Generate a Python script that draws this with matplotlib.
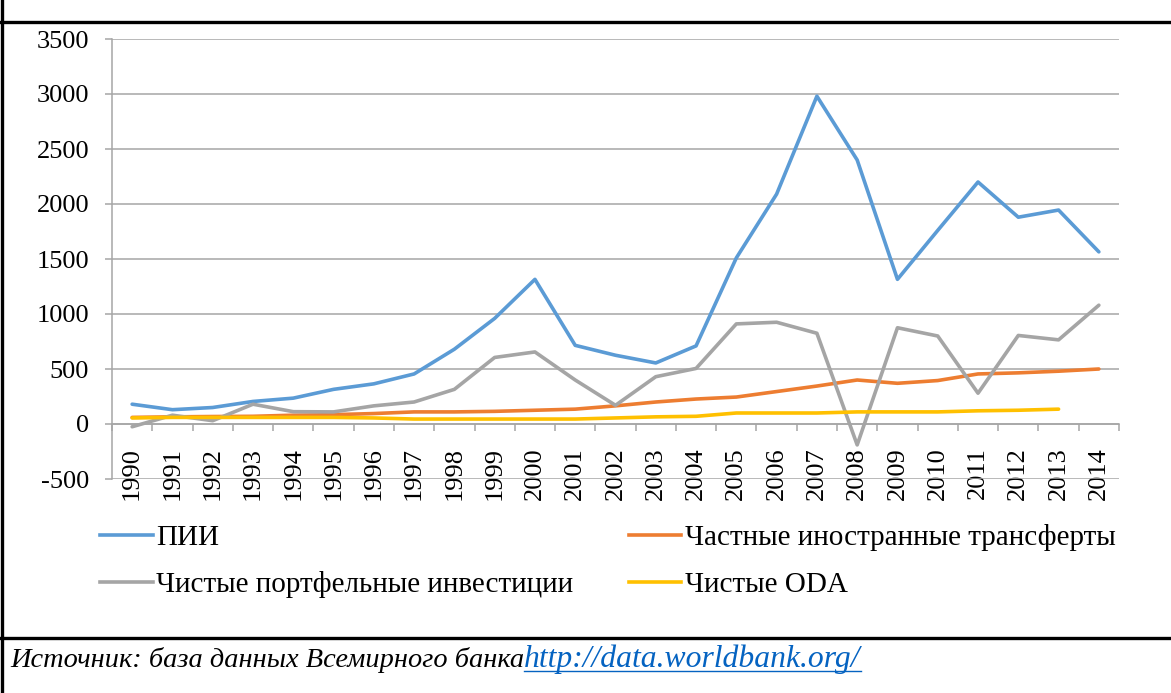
import matplotlib.pyplot as plt
from matplotlib.lines import Line2D
from matplotlib.ticker import MultipleLocator

# values (annual, 1990-2014)
years = list(range(1990, 2015))
fdi = [180, 130, 150, 205, 235, 315, 365, 455, 680, 960, 1315, 715, 625, 555, 710,
       1510, 2090, 2980, 2400, 1315, 1760, 2200, 1880, 1945, 1565]
transfers = [60, 65, 68, 70, 80, 85, 95, 110, 110, 115, 125, 135, 165, 200, 227,
             245, 295, 345, 400, 370, 395, 455, 465, 480, 500]
portfolio = [-25, 80, 30, 180, 112, 110, 165, 200, 315, 605, 655, 400, 170, 430, 505,
             910, 925, 825, -190, 875, 800, 280, 805, 765, 1080]
oda = [55, 60, 60, 60, 60, 60, 55, 45, 45, 45, 45, 45, 55, 65, 70,
       100, 100, 100, 110, 110, 110, 120, 125, 135, None]

series = [
    ('ПИИ', fdi, '#5B9BD5'),
    ('Частные иностранные трансферты', transfers, '#ED7D31'),
    ('Чистые портфельные инвестиции', portfolio, '#A5A5A5'),
    ('Чистые ODA', oda, '#FFC000'),
]

source_text = 'Источник: база данных Всемирного банка'
source_link = 'http://data.worldbank.org/'

plt.rcParams['font.family'] = ['Liberation Serif', 'DejaVu Serif']
plt.rcParams['axes.unicode_minus'] = False

W, H = 1171, 693
fig = plt.figure(figsize=(W / 100, H / 100), dpi=100)

ax = fig.add_axes([112 / W, 1 - 479 / H, 1007 / W, 440 / H])
x = list(range(len(years)))
lines = {}
for name, vals, col in series:
    xs = [i for i, v in zip(x, vals) if v is not None]
    ys = [v for v in vals if v is not None]
    lines[name], = ax.plot(xs, ys, color=col, lw=2.6, solid_capstyle='round',
                           solid_joinstyle='round', zorder=3)

ax.set_xlim(-0.5, len(years) - 0.5)
ax.set_ylim(-500, 3500)
ax.yaxis.set_major_locator(MultipleLocator(500))
ax.grid(axis='y', color='#A6A6A6', lw=1.1, zorder=0)
ax.set_axisbelow(True)

for s in ['top', 'right']:
    ax.spines[s].set_visible(False)
ax.spines['bottom'].set_position(('data', 0))
ax.spines['bottom'].set_color('#A6A6A6')
ax.spines['bottom'].set_linewidth(1.1)
ax.spines['left'].set_color('#A6A6A6')
ax.spines['left'].set_linewidth(1.1)

ax.set_xticks(x)
ax.set_xticklabels([str(y) for y in years], rotation=90)
ax.set_xticks([i - 0.5 for i in range(len(years) + 1)], minor=True)
ax.tick_params(axis='x', which='major', length=0, pad=16.5, labelsize=19)
ax.tick_params(axis='x', which='minor', length=5, width=1.1, color='#A6A6A6', direction='out')
ax.tick_params(axis='y', length=5, width=1.1, color='#A6A6A6', pad=11.5, labelsize=19)

# legend below the plot, two columns
order = ['ПИИ', 'Чистые портфельные инвестиции', 'Частные иностранные трансферты', 'Чистые ODA']
handles = [Line2D([], [], color=lines[n].get_color(), lw=2.6) for n in order]
fig.legend(handles, order, ncol=2, loc='upper left', bbox_to_anchor=(100 / W, 1 - 524 / H),
           frameon=False, fontsize=21, handlelength=1.8, handletextpad=0.13,
           columnspacing=1.9, labelspacing=0.7, borderpad=0, borderaxespad=0)

# frame of the document table
frame = dict(color='black', lw=2.4, transform=fig.transFigure, clip_on=False)
fig.add_artist(Line2D([0, 1], [1 - 22 / H, 1 - 22 / H], **frame))
fig.add_artist(Line2D([0, 1], [1 - 638 / H, 1 - 638 / H], **frame))
fig.add_artist(Line2D([2 / W, 2 / W], [0, 1], **frame))

# source line with link
t = fig.text(10 / W, 1 - 667 / H, source_text, fontsize=20.4, style='italic', va='baseline')
fig.canvas.draw()
bb = t.get_window_extent()
lt = fig.text(bb.x1 / W, 1 - 667 / H, source_link, fontsize=22.8, style='italic',
              va='baseline', color='#0563C1')
fig.canvas.draw()
lb = lt.get_window_extent()
fig.add_artist(Line2D([lb.x0 / W, lb.x1 / W], [1 - 671 / H, 1 - 671 / H],
                      color='#0563C1', lw=1.0, transform=fig.transFigure))

fig.savefig('out.png', dpi=100)
